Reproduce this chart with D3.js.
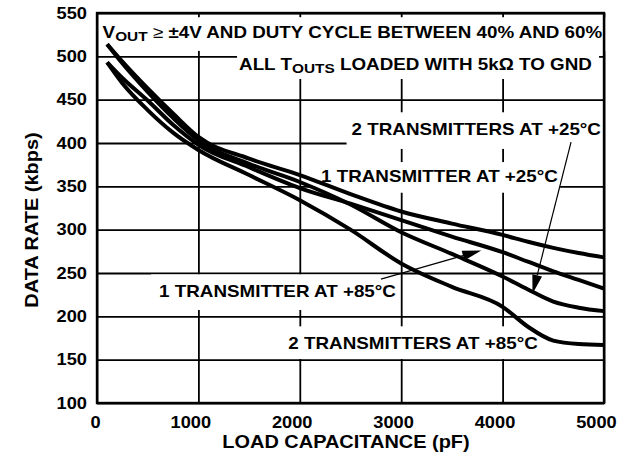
<!DOCTYPE html>
<html>
<head>
<meta charset="utf-8">
<script src="https://cdn.jsdelivr.net/npm/d3@7"></script>
<style>
  body { margin: 0; background: #fff; }
  svg { display: block; font-family: "Liberation Sans", Arial, Helvetica, sans-serif; font-weight: bold; }
</style>
</head>
<body>
<svg id="chart" width="617" height="460"></svg>
<script>
// load capacitance (pF) where the curves were read
const capacitance = [100, 250, 500, 750, 1000, 1500, 2000, 2500, 3000, 3500, 4000, 4250, 4500, 4750, 5000]
// data rate (kbps) for each curve
const oneTx25 = [514, 494, 463, 434, 407, 382, 363, 341, 321, 307, 294, 286, 279, 273, 268]
const oneTx85 = [493, 475, 449, 421, 398, 372, 348, 330, 311, 292, 274, 263, 252, 242, 232]
const twoTx25 = [514, 492, 459, 429, 403, 376, 355, 329, 297, 272, 246, 231, 217, 210, 206]
const twoTx85 = [493, 469, 438, 412, 392, 363, 334, 300, 261, 234, 211, 188, 172, 168, 167]

const xTicks = [0, 1000, 2000, 3000, 4000, 5000]
const yTicks = [100, 150, 200, 250, 300, 350, 400, 450, 500, 550]

// text stretch, the source font is wider than Arial
const stretch = 1.14

const svg = d3.select('#chart')
const plotLeft = 97
const plotRight = 604
const plotTop = 13
const plotBottom = 403

const x = d3.scaleLinear().domain([0, 5000]).range([plotLeft, plotRight])
const y = d3.scaleLinear().domain([100, 550]).range([plotBottom, plotTop])

/**
 * 网格 + 刻度
 */
const xAxis = svg.append('g')
  .attr('transform', `translate(0,${plotBottom})`)
  .call(d3.axisBottom(x).tickValues(xTicks).tickFormat(d3.format('d'))
    .tickSize(-(plotBottom - plotTop)).tickPadding(14).tickSizeOuter(0))
const yAxis = svg.append('g')
  .attr('transform', `translate(${plotLeft},0)`)
  .call(d3.axisLeft(y).tickValues(yTicks).tickFormat(d3.format('d'))
    .tickSize(-(plotRight - plotLeft)).tickPadding(10).tickSizeOuter(0))

svg.selectAll('.domain').remove()
svg.selectAll('.tick line').attr('stroke', '#000').attr('stroke-width', 1.8)
svg.selectAll('.tick text')
  .attr('fill', '#000')
  .attr('font-size', 16)
  .attr('font-family', '"Liberation Sans", Arial, sans-serif')
  .attr('font-weight', 'bold')

yAxis.selectAll('.tick text').attr('transform', `scale(${stretch},1)`).attr('x', -10 / stretch)
xAxis.selectAll('.tick text')
  .attr('transform', `scale(${stretch},1)`)
  .attr('dx', function() { return -0.2 * this.getComputedTextLength() })

// axis titles
svg.append('text')
  .attr('transform', `translate(346,448) scale(${stretch},1)`)
  .attr('text-anchor', 'middle')
  .attr('font-size', 17.5)
  .text('LOAD CAPACITANCE (pF)')
svg.append('text')
  .attr('transform', `translate(38,220) rotate(-90) scale(${stretch},1)`)
  .attr('text-anchor', 'middle')
  .attr('font-size', 17.5)
  .text('DATA RATE (kbps)')

// labels: parts with subscripts, placed in data units, pad = [left, right, top, bottom]
const labels = [
  { parts: [['V'], ['OUT', 'sub'], [' ≥ ', 'thin'], ['±4V AND DUTY CYCLE BETWEEN 40% AND 60%']],
    cx: 55, cy: 521, anchor: 'start', pad: [3, 3, 6, 7] },
  { parts: [['ALL T'], ['OUTS', 'sub'], [' LOADED WITH 5kΩ TO GND']],
    cx: 4880, cy: 484, anchor: 'end', pad: [2, 7, 6, 3] },
  { parts: [['2 TRANSMITTERS AT +25°C']], cx: 4970, cy: 409, anchor: 'end', pad: [5, 3, 8, 10] },
  { parts: [['1 TRANSMITTER AT +25°C']], cx: 4545, cy: 355, anchor: 'end', pad: [6, 2, 5, 7] },
  { parts: [['1 TRANSMITTER AT +85°C']], cx: 612, cy: 222, anchor: 'start', pad: [8, 2, 8, 9] },
  { parts: [['2 TRANSMITTERS AT +85°C']], cx: 1887, cy: 162, anchor: 'start', pad: [8, 4, 8, 6] }
]

const labelLayer = svg.append('g')

labels.forEach(d => {
  const g = labelLayer.append('g')
    .attr('transform', `translate(${x(d.cx)},${y(d.cy)}) scale(${stretch},1)`)
  const rect = g.append('rect').attr('fill', '#fff')
  const t = g.append('text')
    .attr('text-anchor', d.anchor)
    .attr('font-size', 16.5)
  d.parts.forEach((p, i) => {
    const prev = d.parts[i - 1]
    const dy = (p[1] === 'sub' ? 3 : 0) - (prev && prev[1] === 'sub' ? 3 : 0)
    const span = t.append('tspan').attr('dy', dy).text(p[0])
    if (p[1] === 'sub') span.attr('font-size', 13.5)
    if (p[1] === 'thin') span.attr('font-weight', 'normal')
  })
  const b = t.node().getBBox()
  rect.attr('x', b.x - d.pad[0] / stretch)
    .attr('y', b.y - d.pad[2])
    .attr('width', b.width + (d.pad[0] + d.pad[1]) / stretch)
    .attr('height', b.height + d.pad[2] + d.pad[3])
})

// frame on top of the label boxes
svg.append('rect')
  .attr('x', plotLeft).attr('y', plotTop)
  .attr('width', plotRight - plotLeft).attr('height', plotBottom - plotTop)
  .attr('fill', 'none').attr('stroke', '#000').attr('stroke-width', 2.4)

// curves
const series = [oneTx25, oneTx85, twoTx25, twoTx85]
const line = d3.line()
  .x((v, i) => x(capacitance[i]))
  .y(v => y(v))
  .curve(d3.curveMonotoneX)

svg.append('g').selectAll('path')
  .data(series)
  .join('path')
  .attr('d', line)
  .attr('fill', 'none')
  .attr('stroke', '#000')
  .attr('stroke-width', 4)
  .attr('stroke-linejoin', 'round')

// arrows from label to curve, in data units
const arrows = [
  { from: [4675, 401], to: [4295, 226] },
  { from: [2800, 243], to: [3790, 276] }
]
const arrowLayer = svg.append('g')
arrows.forEach(a => {
  const x0 = x(a.from[0])
  const y0 = y(a.from[1])
  const x1 = x(a.to[0])
  const y1 = y(a.to[1])
  const ang = Math.atan2(y1 - y0, x1 - x0)
  const len = 19
  const half = 5
  const bx = x1 - len * Math.cos(ang)
  const by = y1 - len * Math.sin(ang)
  arrowLayer.append('line')
    .attr('x1', x0).attr('y1', y0).attr('x2', bx).attr('y2', by)
    .attr('stroke', '#000').attr('stroke-width', 1.2)
  arrowLayer.append('path')
    .attr('d', `M${x1},${y1}L${bx - half * Math.sin(ang)},${by + half * Math.cos(ang)}L${bx + half * Math.sin(ang)},${by - half * Math.cos(ang)}Z`)
    .attr('fill', '#000')
})
</script>
</body>
</html>
